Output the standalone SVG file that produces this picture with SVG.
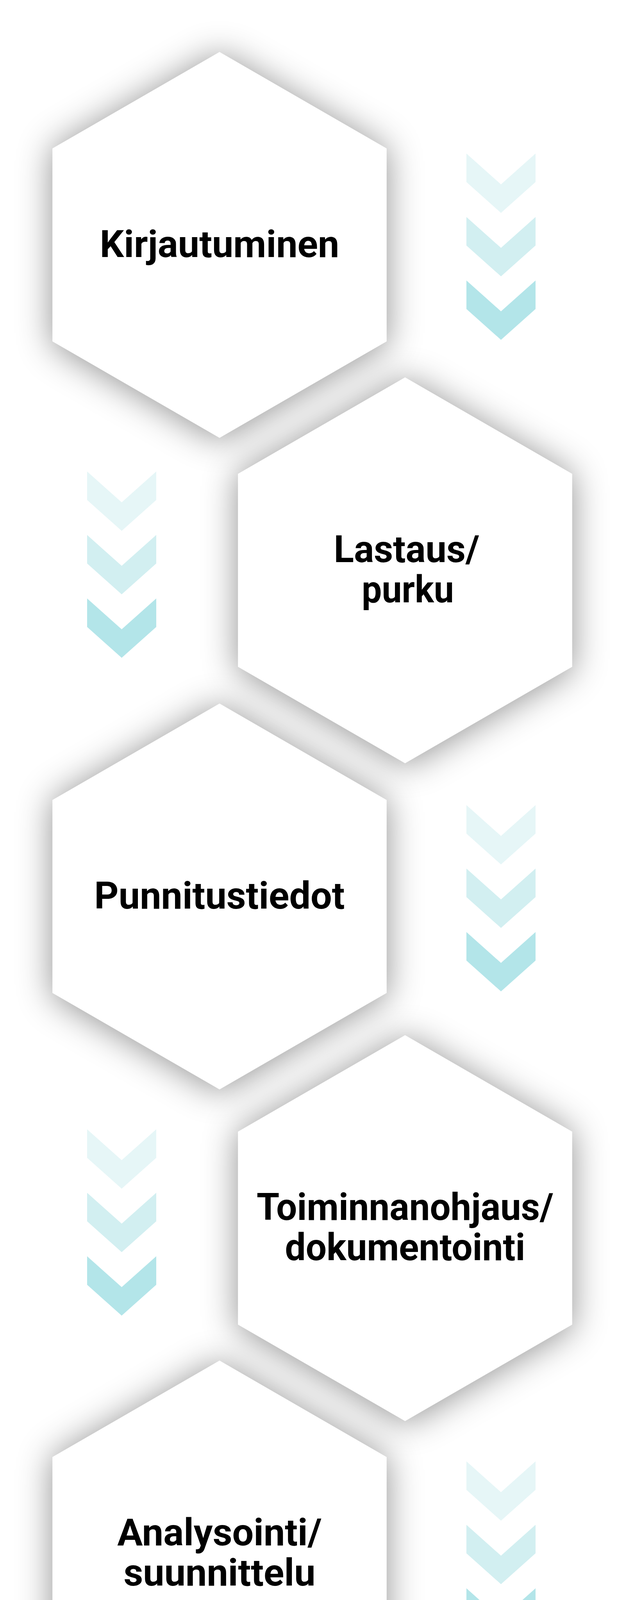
<svg xmlns="http://www.w3.org/2000/svg" xmlns:xlink="http://www.w3.org/1999/xlink" width="1600" height="4604" viewBox="0 0 1600 4604">
<style>
.hex{fill:#ffffff;filter:url(#shadow)}
.lbl{font-family:Roboto,"Liberation Sans",Arial,sans-serif;font-weight:700;font-size:97px;fill:#000000;text-anchor:middle}
.c1{fill:#e6f6f7}
.c2{fill:#d2eff1}
.c3{fill:#b3e5e9}
</style>
<defs>
<filter id="shadow" x="-25%" y="-25%" width="150%" height="150%" color-interpolation-filters="sRGB">
<feDropShadow dx="0" dy="5" stdDeviation="44" flood-color="#000000" flood-opacity="0.44"/>
</filter>
<polygon id="hexshape" points="0,0 427.8,247 427.8,741 0,988 -427.8,741 -427.8,247"/>
<path id="chev" d="M-88.5,0 L0,79 L88.5,0 L88.5,73 L0,152 L-88.5,73 Z"/>
</defs>
<rect x="0" y="0" width="1600" height="4604" fill="#ffffff"/>
<g id="connectors">
<g id="arrows-1">
<use xlink:href="#chev" href="#chev" class="c1" x="1282.5" y="393"/>
<use xlink:href="#chev" href="#chev" class="c2" x="1282.5" y="555.5"/>
<use xlink:href="#chev" href="#chev" class="c3" x="1282.5" y="718"/>
</g>
<g id="arrows-2">
<use xlink:href="#chev" href="#chev" class="c1" x="311.5" y="1207"/>
<use xlink:href="#chev" href="#chev" class="c2" x="311.5" y="1369.5"/>
<use xlink:href="#chev" href="#chev" class="c3" x="311.5" y="1532"/>
</g>
<g id="arrows-3">
<use xlink:href="#chev" href="#chev" class="c1" x="1282.5" y="2061"/>
<use xlink:href="#chev" href="#chev" class="c2" x="1282.5" y="2223.5"/>
<use xlink:href="#chev" href="#chev" class="c3" x="1282.5" y="2386"/>
</g>
<g id="arrows-4">
<use xlink:href="#chev" href="#chev" class="c1" x="311.5" y="2891"/>
<use xlink:href="#chev" href="#chev" class="c2" x="311.5" y="3053.5"/>
<use xlink:href="#chev" href="#chev" class="c3" x="311.5" y="3216"/>
</g>
<g id="arrows-5">
<use xlink:href="#chev" href="#chev" class="c1" x="1282.5" y="3741"/>
<use xlink:href="#chev" href="#chev" class="c2" x="1282.5" y="3903.5"/>
<use xlink:href="#chev" href="#chev" class="c3" x="1282.5" y="4066"/>
</g>
</g>
<g id="node-kirjautuminen">
<use xlink:href="#hexshape" href="#hexshape" class="hex" x="562" y="133"/>
<text class="lbl" x="562" y="658" textLength="613" lengthAdjust="spacingAndGlyphs">Kirjautuminen</text>
</g>
<g id="node-lastaus">
<use xlink:href="#hexshape" href="#hexshape" class="hex" x="1037" y="966"/>
<text class="lbl" x="1041" y="1439" textLength="373" lengthAdjust="spacingAndGlyphs">Lastaus/</text>
<text class="lbl" x="1044" y="1542" textLength="236" lengthAdjust="spacingAndGlyphs">purku</text>
</g>
<g id="node-punnitustiedot">
<use xlink:href="#hexshape" href="#hexshape" class="hex" x="562" y="1801"/>
<text class="lbl" x="562" y="2326">Punnitustiedot</text>
</g>
<g id="node-toiminnanohjaus">
<use xlink:href="#hexshape" href="#hexshape" class="hex" x="1037" y="2650"/>
<text class="lbl" x="1037" y="3123" textLength="760" lengthAdjust="spacingAndGlyphs">Toiminnanohjaus/</text>
<text class="lbl" x="1037" y="3226" textLength="615" lengthAdjust="spacingAndGlyphs">dokumentointi</text>
</g>
<g id="node-analysointi">
<use xlink:href="#hexshape" href="#hexshape" class="hex" x="562" y="3483"/>
<text class="lbl" x="562" y="3956">Analysointi/</text>
<text class="lbl" x="562" y="4059">suunnittelu</text>
</g>
</svg>
